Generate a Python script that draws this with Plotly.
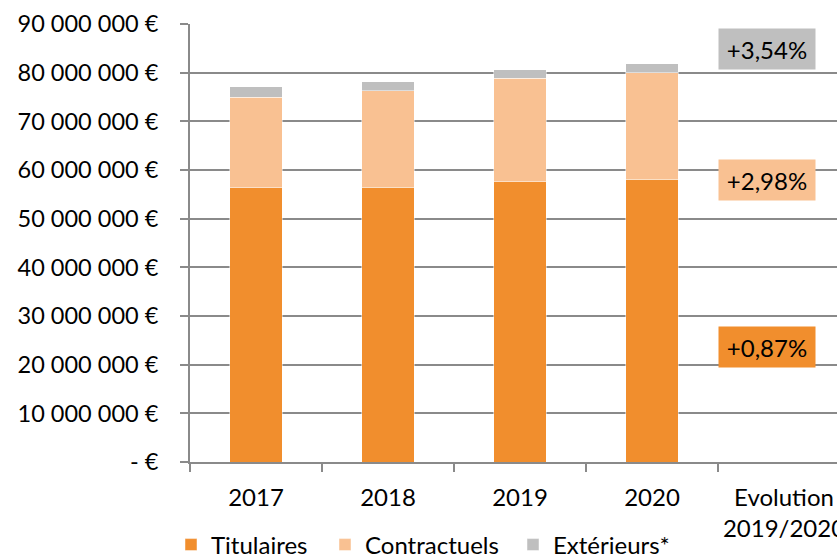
import plotly.graph_objects as go

# Staff expenditure by category (euros)
years = ["2017", "2018", "2019", "2020"]
categories = years + ["Evolution<br>2019/2020"]
titulaires = [56_400_000, 56_500_000, 57_600_000, 58_100_000]
contractuels = [18_600_000, 19_800_000, 21_300_000, 21_930_000]
exterieurs = [2_100_000, 1_800_000, 1_700_000, 1_760_000]

# Year-on-year change labels shown in the last column
evolution_labels = ["+0,87%", "+2,98%", "+3,54%"]
evolution_y = [23_600_000, 57_900_000, 84_900_000]

# Y axis ticks
y_tickvals = [0, 10_000_000, 20_000_000, 30_000_000, 40_000_000,
              50_000_000, 60_000_000, 70_000_000, 80_000_000, 90_000_000]
y_ticktext = ["- €", "10 000 000 €", "20 000 000 €", "30 000 000 €", "40 000 000 €",
              "50 000 000 €", "60 000 000 €", "70 000 000 €", "80 000 000 €", "90 000 000 €"]

c_tit = "#F18E2D"
c_con = "#F9C192"
c_ext = "#BFBFBF"
font = "Lato"
fs = 24

W, H = 837, 559
left, top, bottom = 190, 24, 97
step = 132.0
plot_w = W - left

fig = go.Figure()
series = [("Titulaires", titulaires, c_tit, "legend", 171),
          ("Contractuels", contractuels, c_con, "legend2", 325),
          ("Extérieurs*", exterieurs, c_ext, "legend3", 513)]
for name, vals, col, lg, _ in series:
    fig.add_trace(go.Bar(
        x=years, y=vals, name=name, legend=lg,
        marker=dict(color=col, line=dict(color="rgba(255,255,255,0.6)", width=0.8)),
    ))

# Colored boxes with the 2019/2020 evolution rates
for txt, yv, col in zip(evolution_labels, evolution_y, [c_tit, c_con, c_ext]):
    fig.add_annotation(
        x=3.87, y=yv, xref="x", yref="y", text=txt, showarrow=False,
        font=dict(family=font, size=fs, color="#000000"),
        bgcolor=col, width=96, height=40, borderpad=0,
    )

legend_layout = {}
for _, _, _, lg, lx in series:
    legend_layout[lg] = dict(
        orientation="h", xref="container", yref="container",
        x=lx / W, y=1 - 545 / H, xanchor="left", yanchor="middle",
        font=dict(family=font, size=fs, color="#000000"),
        itemwidth=30, bgcolor="rgba(0,0,0,0)",
    )

fig.update_layout(
    width=W, height=H,
    margin=dict(l=left, r=0, t=top, b=bottom, autoexpand=False),
    barmode="stack", bargap=0.6,
    paper_bgcolor="white", plot_bgcolor="white",
    font=dict(family=font, size=fs, color="#000000"),
    showlegend=True,
    xaxis=dict(
        type="category", categoryorder="array", categoryarray=categories,
        tickmode="array", tickvals=categories, ticktext=categories,
        range=[-0.5, -0.5 + plot_w / step],
        showline=True, linecolor="#8A8A8A", linewidth=2,
        ticks="outside", ticklen=8, tickcolor="#8A8A8A", tickwidth=2,
        tickson="boundaries", showgrid=False, zeroline=False,
        ticklabelstandoff=13, tickfont=dict(family=font, size=fs),
    ),
    yaxis=dict(
        range=[0, 90_000_000],
        tickmode="array", tickvals=y_tickvals, ticktext=y_ticktext,
        showline=True, linecolor="#8A8A8A", linewidth=2,
        ticks="outside", ticklen=8, tickcolor="#8A8A8A", tickwidth=2,
        showgrid=True, gridcolor="#8A8A8A", gridwidth=2,
        zeroline=False, ticklabelstandoff=17,
        tickfont=dict(family=font, size=23.5),
    ),
    **legend_layout,
)

fig.write_html("out.html")
